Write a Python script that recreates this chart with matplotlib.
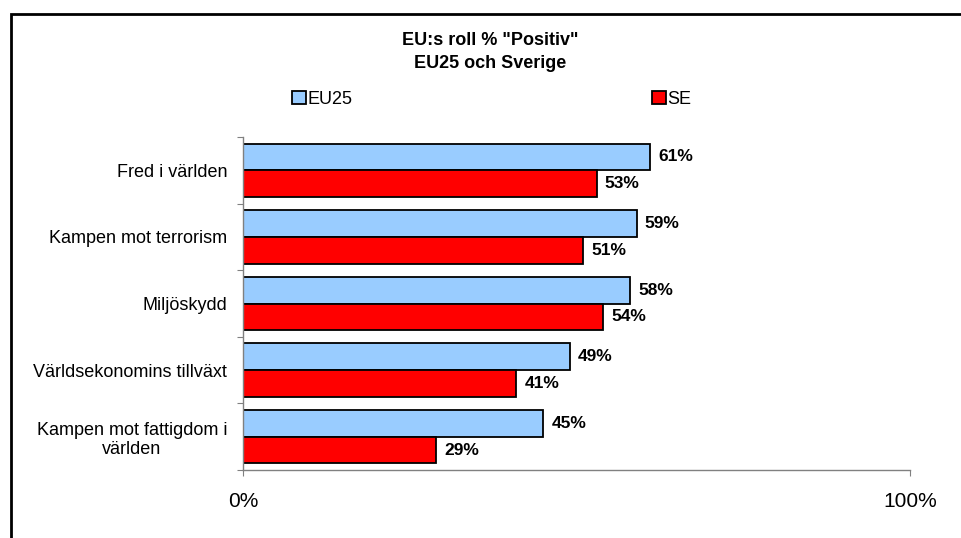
import matplotlib.pyplot as plt
import matplotlib.patches as mpatches
import numpy as np

plt.rcParams['font.family'] = ['Liberation Sans', 'DejaVu Sans']

# data
categories = ['Fred i världen', 'Kampen mot terrorism', 'Miljöskydd',
              'Världsekonomins tillväxt', 'Kampen mot fattigdom i\nvärlden']
eu25 = [61, 59, 58, 49, 45]
se = [53, 51, 54, 41, 29]
series_names = ['EU25', 'SE']
title = 'EU:s roll % "Positiv"\nEU25 och Sverige'

blue = '#99CCFF'
red = '#FF0000'

fig = plt.figure(figsize=(9.62, 5.38), dpi=100)
ax = fig.add_axes([243/962, 1-470/538, 667/962, 333/538])

y = np.arange(len(categories))
h = 0.4
ax.barh(y - h/2, eu25, height=h, color=blue, edgecolor='black', lw=1.3)
ax.barh(y + h/2, se, height=h, color=red, edgecolor='black', lw=1.3)

for yi, v in zip(y, eu25):
    ax.annotate(f'{v}%', (v, yi - h/2), xytext=(6, 0), textcoords='offset points',
                va='center', ha='left', fontsize=12.5, fontweight='bold')
for yi, v in zip(y, se):
    ax.annotate(f'{v}%', (v, yi + h/2), xytext=(6, 0), textcoords='offset points',
                va='center', ha='left', fontsize=12.5, fontweight='bold')

ax.set_xlim(0, 100)
ax.set_ylim(len(categories) - 0.5, -0.5)

# ticks at boundaries, labels at centers
ax.set_yticks(np.arange(len(categories) + 1) - 0.5)
ax.set_yticklabels([])
ax.set_yticks(y, minor=True)
ax.set_yticklabels(categories, minor=True, fontsize=13, ha='right',
                   multialignment='center')
ax.tick_params(axis='y', which='minor', length=0, pad=11.5)
ax.tick_params(axis='y', which='major', length=4, color='#808080', direction='out')
ax.set_xticks([0, 100])
ax.set_xticklabels(['0%', '100%'], fontsize=15)
ax.tick_params(axis='x', length=4, color='#808080', pad=12)

for s in ['top', 'right']:
    ax.spines[s].set_visible(False)
for s in ['left', 'bottom']:
    ax.spines[s].set_color('#808080')
    ax.spines[s].set_linewidth(1)

fig.text(490/962, 1-52/538, title, ha='center', va='center', fontsize=13,
         fontweight='bold', linespacing=1.45)

# legend
h1 = mpatches.Patch(facecolor=blue, edgecolor='black', lw=1.3, label=series_names[0])
h2 = mpatches.Patch(facecolor=red, edgecolor='black', lw=1.3, label=series_names[1])
for hd, xpos in [(h1, 292), (h2, 652)]:
    fig.legend(handles=[hd], loc='center left', bbox_to_anchor=(xpos/962, 1-99/538),
               frameon=False, borderpad=0, borderaxespad=0, handlelength=0.75,
               handleheight=0.75, handletextpad=0.1, fontsize=13)

# outer frame
fig.add_artist(mpatches.Rectangle((11/962, -0.1), 1.2, 1-14/538+0.1,
                                  transform=fig.transFigure, fill=False,
                                  edgecolor='black', lw=2))

fig.savefig('out.png', dpi=100)
